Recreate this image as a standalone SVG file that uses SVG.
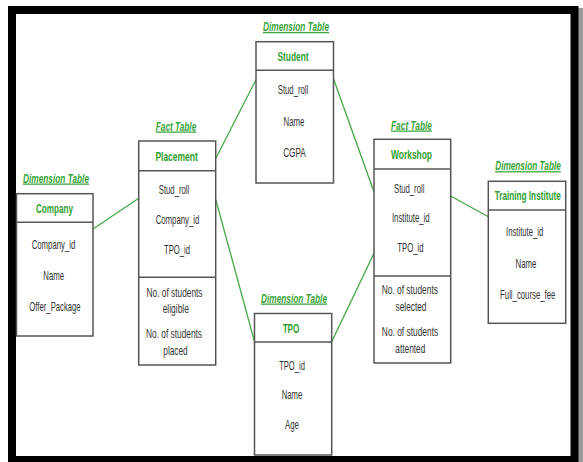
<svg xmlns="http://www.w3.org/2000/svg" width="583" height="462" viewBox="0 0 583 462">
<style>
.box{fill:#fff;stroke:#555;stroke-width:1.5}
.div{stroke:#555;stroke-width:1.5}
.con line{stroke:#43a843;stroke-width:1.3}
text{font-family:"Liberation Sans",Arial,sans-serif;text-anchor:middle}
.lbl{font-size:12.5px;font-weight:bold;font-style:italic;fill:#3aa53a;text-decoration:underline}
.hd{font-size:13px;font-weight:bold;fill:#2f9e2f}
.it{font-size:13px;fill:#333}
</style>
<rect x="0" y="0" width="583" height="462" fill="#fff"/>
<rect x="577" y="8" width="6" height="454" fill="#9a9a9a"/>
<rect x="12" y="10" width="562.5" height="450" fill="none" stroke="#000" stroke-width="8"/>
<g class="con">
<line x1="256.5" y1="78.7" x2="216" y2="158"/>
<line x1="333.5" y1="78.7" x2="374" y2="192"/>
<line x1="93" y1="229" x2="138.7" y2="198.3"/>
<line x1="215.7" y1="199.3" x2="254.5" y2="341.7"/>
<line x1="331.7" y1="341.7" x2="374" y2="253.3"/>
<line x1="450.7" y1="196" x2="488.3" y2="216.7"/>
</g>
<g id="student">
<text class="lbl" x="296" y="31" textLength="66" lengthAdjust="spacingAndGlyphs">Dimension Table</text>
<rect class="box" x="256" y="41.7" width="77.5" height="141.3"/>
<line class="div" x1="256" y1="70.3" x2="333.5" y2="70.3"/>
<text class="hd" x="293" y="60.5" textLength="31" lengthAdjust="spacingAndGlyphs">Student</text>
<text class="it" x="293" y="94.3" textLength="30.5" lengthAdjust="spacingAndGlyphs">Stud_roll</text>
<text class="it" x="294" y="126" textLength="21" lengthAdjust="spacingAndGlyphs">Name</text>
<text class="it" x="294.5" y="157.3" textLength="22.7" lengthAdjust="spacingAndGlyphs">CGPA</text>
</g>
<g id="placement">
<text class="lbl" x="176" y="130.5" textLength="40.5" lengthAdjust="spacingAndGlyphs">Fact Table</text>
<rect class="box" x="138.7" y="141" width="77" height="224"/>
<line class="div" x1="138.7" y1="170.7" x2="215.7" y2="170.7"/>
<line class="div" x1="138.7" y1="277.3" x2="215.7" y2="277.3"/>
<text class="hd" x="176.6" y="161" textLength="42.4" lengthAdjust="spacingAndGlyphs">Placement</text>
<text class="it" x="174" y="194" textLength="30.5" lengthAdjust="spacingAndGlyphs">Stud_roll</text>
<text class="it" x="177.5" y="224" textLength="43.7" lengthAdjust="spacingAndGlyphs">Company_id</text>
<text class="it" x="177" y="253.5" textLength="26" lengthAdjust="spacingAndGlyphs">TPO_id</text>
<text class="it" x="174.5" y="296.7" textLength="56" lengthAdjust="spacingAndGlyphs">No. of students</text>
<text class="it" x="175.8" y="313" textLength="26.3" lengthAdjust="spacingAndGlyphs">eligible</text>
<text class="it" x="174" y="337.5" textLength="56" lengthAdjust="spacingAndGlyphs">No. of students</text>
<text class="it" x="175.5" y="354.5" textLength="24.3" lengthAdjust="spacingAndGlyphs">placed</text>
</g>
<g id="company">
<text class="lbl" x="56" y="182.5" textLength="66" lengthAdjust="spacingAndGlyphs">Dimension Table</text>
<rect class="box" x="16.5" y="193.7" width="76.5" height="142.3"/>
<line class="div" x1="16.5" y1="222.3" x2="93" y2="222.3"/>
<text class="hd" x="54.5" y="212.5" textLength="37" lengthAdjust="spacingAndGlyphs">Company</text>
<text class="it" x="53.5" y="248.5" textLength="43.7" lengthAdjust="spacingAndGlyphs">Company_id</text>
<text class="it" x="53.7" y="280" textLength="20.7" lengthAdjust="spacingAndGlyphs">Name</text>
<text class="it" x="55" y="311" textLength="51.3" lengthAdjust="spacingAndGlyphs">Offer_Package</text>
</g>
<g id="tpo">
<text class="lbl" x="294" y="302.5" textLength="66" lengthAdjust="spacingAndGlyphs">Dimension Table</text>
<rect class="box" x="254.5" y="313.5" width="77.2" height="141.5"/>
<line class="div" x1="254.5" y1="342" x2="331.7" y2="342"/>
<text class="hd" x="291" y="332.5" textLength="16.7" lengthAdjust="spacingAndGlyphs">TPO</text>
<text class="it" x="292" y="370" textLength="25.7" lengthAdjust="spacingAndGlyphs">TPO_id</text>
<text class="it" x="292" y="398.5" textLength="20.6" lengthAdjust="spacingAndGlyphs">Name</text>
<text class="it" x="292" y="428.5" textLength="14" lengthAdjust="spacingAndGlyphs">Age</text>
</g>
<g id="workshop">
<text class="lbl" x="411.5" y="129.5" textLength="41" lengthAdjust="spacingAndGlyphs">Fact Table</text>
<rect class="box" x="374" y="139.3" width="76.7" height="223.7"/>
<line class="div" x1="374" y1="169" x2="450.7" y2="169"/>
<line class="div" x1="374" y1="276" x2="450.7" y2="276"/>
<text class="hd" x="411.5" y="158.5" textLength="41" lengthAdjust="spacingAndGlyphs">Workshop</text>
<text class="it" x="409.2" y="193" textLength="30.3" lengthAdjust="spacingAndGlyphs">Stud_roll</text>
<text class="it" x="410.8" y="222" textLength="37.7" lengthAdjust="spacingAndGlyphs">Institute_id</text>
<text class="it" x="410.5" y="251.5" textLength="26.3" lengthAdjust="spacingAndGlyphs">TPO_id</text>
<text class="it" x="409.8" y="294" textLength="56.3" lengthAdjust="spacingAndGlyphs">No. of students</text>
<text class="it" x="411" y="311" textLength="31" lengthAdjust="spacingAndGlyphs">selected</text>
<text class="it" x="410" y="336" textLength="56.3" lengthAdjust="spacingAndGlyphs">No. of students</text>
<text class="it" x="410.3" y="352.5" textLength="30" lengthAdjust="spacingAndGlyphs">attented</text>
</g>
<g id="training-institute">
<text class="lbl" transform="translate(528,170) scale(0.66,1)">Dimension Table</text>
<rect class="box" x="488.3" y="181.3" width="77.4" height="142"/>
<line class="div" x1="488.3" y1="210" x2="565.7" y2="210"/>
<text class="hd" transform="translate(527.7,200) scale(0.632,1)">Training Institute</text>
<text class="it" x="524.7" y="236" textLength="37.3" lengthAdjust="spacingAndGlyphs">Institute_id</text>
<text class="it" x="526" y="268" textLength="21" lengthAdjust="spacingAndGlyphs">Name</text>
<text class="it" transform="translate(527.7,298.5) scale(0.598,1)">Full_course_fee</text>
</g>
</svg>
